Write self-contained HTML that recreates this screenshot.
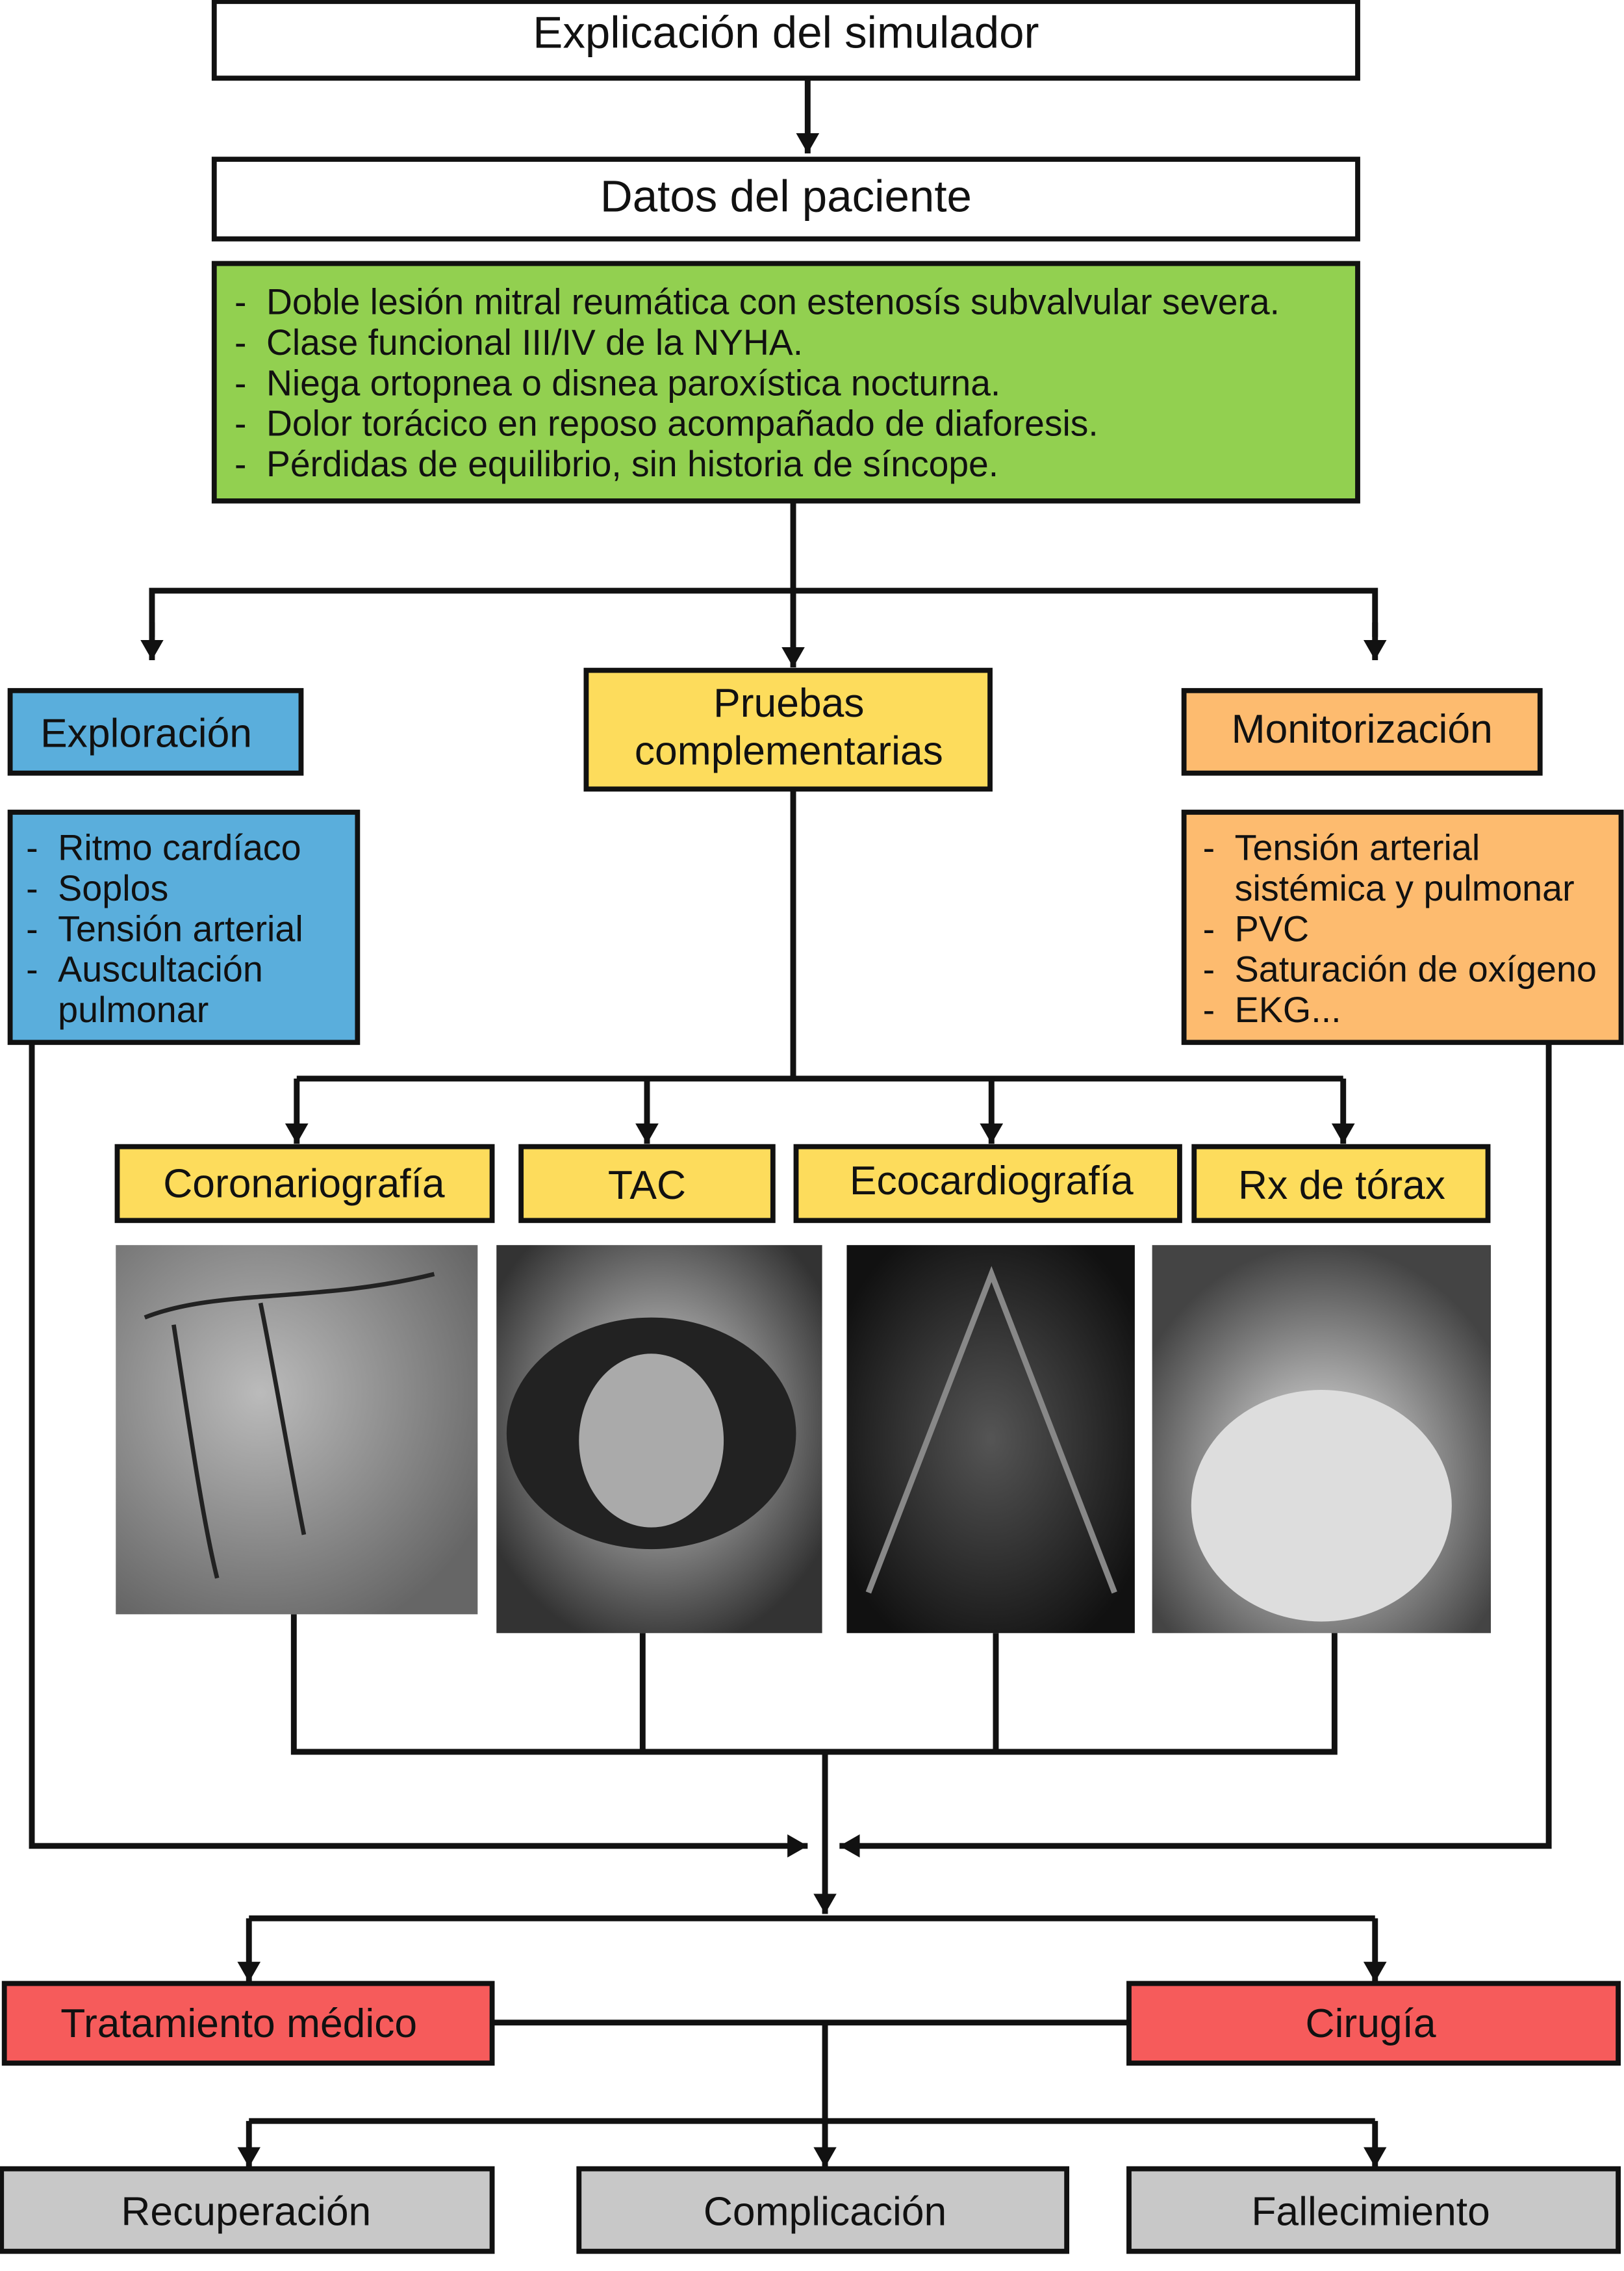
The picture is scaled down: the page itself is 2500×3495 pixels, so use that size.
<!DOCTYPE html>
<html><head><meta charset="utf-8"><style>
html,body{margin:0;padding:0;background:#fff;}
svg{display:block;}
text{font-family:"Liberation Sans",sans-serif;fill:#111;}
</style></head><body>
<svg width="2500" height="3495" viewBox="0 0 1122 1568.6" preserveAspectRatio="none" xmlns="http://www.w3.org/2000/svg">
<defs>
<marker id="a" markerWidth="16" markerHeight="16" refX="14" refY="8" orient="auto" markerUnits="userSpaceOnUse" viewBox="0 0 16 16"><path d="M0,0 L14,8 L0,16 z" fill="#111"/></marker>
<radialGradient id="g1" cx="40%" cy="40%" r="70%"><stop offset="0" stop-color="#bbb"/><stop offset="1" stop-color="#666"/></radialGradient>
<radialGradient id="g2" cx="50%" cy="45%" r="60%"><stop offset="0" stop-color="#ddd"/><stop offset="1" stop-color="#333"/></radialGradient>
<radialGradient id="g3" cx="50%" cy="50%" r="60%"><stop offset="0" stop-color="#555"/><stop offset="1" stop-color="#111"/></radialGradient>
<radialGradient id="g4" cx="50%" cy="60%" r="60%"><stop offset="0" stop-color="#eee"/><stop offset="1" stop-color="#444"/></radialGradient>
</defs>
<g stroke="#111" stroke-width="3.5" fill="none">
<rect x="148" y="1" width="790" height="53" fill="#fff"/>
<rect x="148" y="110" width="790" height="55" fill="#fff"/>
<rect x="148" y="182" width="790" height="164" fill="#92d050"/>
<rect x="7" y="477" width="201" height="57" fill="#5aaedc"/>
<rect x="405" y="463" width="279" height="82" fill="#fddc5c"/>
<rect x="818" y="477" width="246" height="57" fill="#fdbb6f"/>
<rect x="7" y="561" width="240" height="159" fill="#5aaedc"/>
<rect x="818" y="561" width="302" height="159" fill="#fdbb6f"/>
<rect x="81" y="792" width="259" height="51" fill="#fddc5c"/>
<rect x="360" y="792" width="174" height="51" fill="#fddc5c"/>
<rect x="550" y="792" width="265" height="51" fill="#fddc5c"/>
<rect x="825" y="792" width="203" height="51" fill="#fddc5c"/>
<rect x="3" y="1370" width="337" height="55" fill="#f65b5b"/>
<rect x="780" y="1370" width="338" height="55" fill="#f65b5b"/>
<rect x="1" y="1498" width="339" height="57" fill="#c8c8c8"/>
<rect x="400" y="1498" width="337" height="57" fill="#c8c8c8"/>
<rect x="780" y="1498" width="338" height="57" fill="#c8c8c8"/>
</g>
<rect x="80" y="860" width="250" height="255" fill="url(#g1)"/>
<path d="M100,910 C150,890 220,900 300,880 M120,915 C130,980 140,1050 150,1090 M180,900 C190,950 200,1010 210,1060" stroke="#222" stroke-width="3" fill="none"/>
<rect x="343" y="860" width="225" height="268" fill="url(#g2)"/>
<ellipse cx="450" cy="990" rx="100" ry="80" fill="#222"/>
<ellipse cx="450" cy="995" rx="50" ry="60" fill="#aaa"/>
<rect x="585" y="860" width="199" height="268" fill="url(#g3)"/>
<path d="M600,1100 L685,880 L770,1100" stroke="#888" stroke-width="4" fill="none"/>
<rect x="796" y="860" width="234" height="268" fill="url(#g4)"/>
<ellipse cx="913" cy="1040" rx="90" ry="80" fill="#ddd"/>
<g stroke="#111" stroke-width="4" fill="none">
<line x1="558" y1="54" x2="558" y2="106" marker-end="url(#a)"/>
<line x1="548" y1="346" x2="548" y2="461" marker-end="url(#a)"/>
<polyline points="105,440 105,408 950,408 950,440"/>
<line x1="105" y1="430" x2="105" y2="456" marker-end="url(#a)"/>
<line x1="950" y1="430" x2="950" y2="456" marker-end="url(#a)"/>
<line x1="548" y1="545" x2="548" y2="745"/>
<line x1="205" y1="745" x2="928" y2="745"/>
<line x1="205" y1="745" x2="205" y2="790" marker-end="url(#a)"/>
<line x1="447" y1="745" x2="447" y2="790" marker-end="url(#a)"/>
<line x1="685" y1="745" x2="685" y2="790" marker-end="url(#a)"/>
<line x1="928" y1="745" x2="928" y2="790" marker-end="url(#a)"/>
<polyline points="203,1115 203,1210 922,1210 922,1128"/>
<line x1="444" y1="1128" x2="444" y2="1210"/>
<line x1="688" y1="1128" x2="688" y2="1210"/>
<line x1="570" y1="1210" x2="570" y2="1322" marker-end="url(#a)"/>
<polyline points="22,720 22,1275 558,1275" marker-end="url(#a)"/>
<polyline points="1070,720 1070,1275 580,1275" marker-end="url(#a)"/>
<line x1="172" y1="1325" x2="950" y2="1325"/>
<line x1="172" y1="1325" x2="172" y2="1369" marker-end="url(#a)"/>
<line x1="950" y1="1325" x2="950" y2="1369" marker-end="url(#a)"/>
<line x1="340" y1="1397" x2="780" y2="1397"/>
<line x1="570" y1="1397" x2="570" y2="1465"/>
<line x1="172" y1="1465" x2="950" y2="1465"/>
<line x1="172" y1="1465" x2="172" y2="1497" marker-end="url(#a)"/>
<line x1="570" y1="1465" x2="570" y2="1497" marker-end="url(#a)"/>
<line x1="950" y1="1465" x2="950" y2="1497" marker-end="url(#a)"/>
</g>
<g font-size="31" text-anchor="middle">
<text x="543" y="33">Explicación del simulador</text>
<text x="543" y="146">Datos del paciente</text>
</g>
<g font-size="28" text-anchor="middle">
<text x="101" y="516">Exploración</text>
<text x="545" y="495">Pruebas</text>
<text x="545" y="528">complementarias</text>
<text x="941" y="513">Monitorización</text>
<text x="210" y="827">Coronariografía</text>
<text x="447" y="828">TAC</text>
<text x="685" y="825">Ecocardiografía</text>
<text x="927" y="828">Rx de tórax</text>
<text x="165" y="1407">Tratamiento médico</text>
<text x="947" y="1407">Cirugía</text>
<text x="170" y="1537">Recuperación</text>
<text x="570" y="1537">Complicación</text>
<text x="947" y="1537">Fallecimiento</text>
</g>
<g font-size="24.8">
<text x="162" y="217">-</text><text x="184" y="217">Doble lesión mitral reumática con estenosís subvalvular severa.</text>
<text x="162" y="245">-</text><text x="184" y="245">Clase funcional III/IV de la NYHA.</text>
<text x="162" y="273">-</text><text x="184" y="273">Niega ortopnea o disnea paroxística nocturna.</text>
<text x="162" y="301">-</text><text x="184" y="301">Dolor torácico en reposo acompañado de diaforesis.</text>
<text x="162" y="329">-</text><text x="184" y="329">Pérdidas de equilibrio, sin historia de síncope.</text>
</g>
<g font-size="25">
<text x="18" y="594">-</text><text x="40" y="594">Ritmo cardíaco</text>
<text x="18" y="622">-</text><text x="40" y="622">Soplos</text>
<text x="18" y="650">-</text><text x="40" y="650">Tensión arterial</text>
<text x="18" y="678">-</text><text x="40" y="678">Auscultación</text>
<text x="40" y="706">pulmonar</text>
<text x="831" y="594">-</text><text x="853" y="594">Tensión arterial</text>
<text x="853" y="622">sistémica y pulmonar</text>
<text x="831" y="650">-</text><text x="853" y="650">PVC</text>
<text x="831" y="678">-</text><text x="853" y="678">Saturación de oxígeno</text>
<text x="831" y="706">-</text><text x="853" y="706">EKG...</text>
</g>
</svg>
</body></html>
